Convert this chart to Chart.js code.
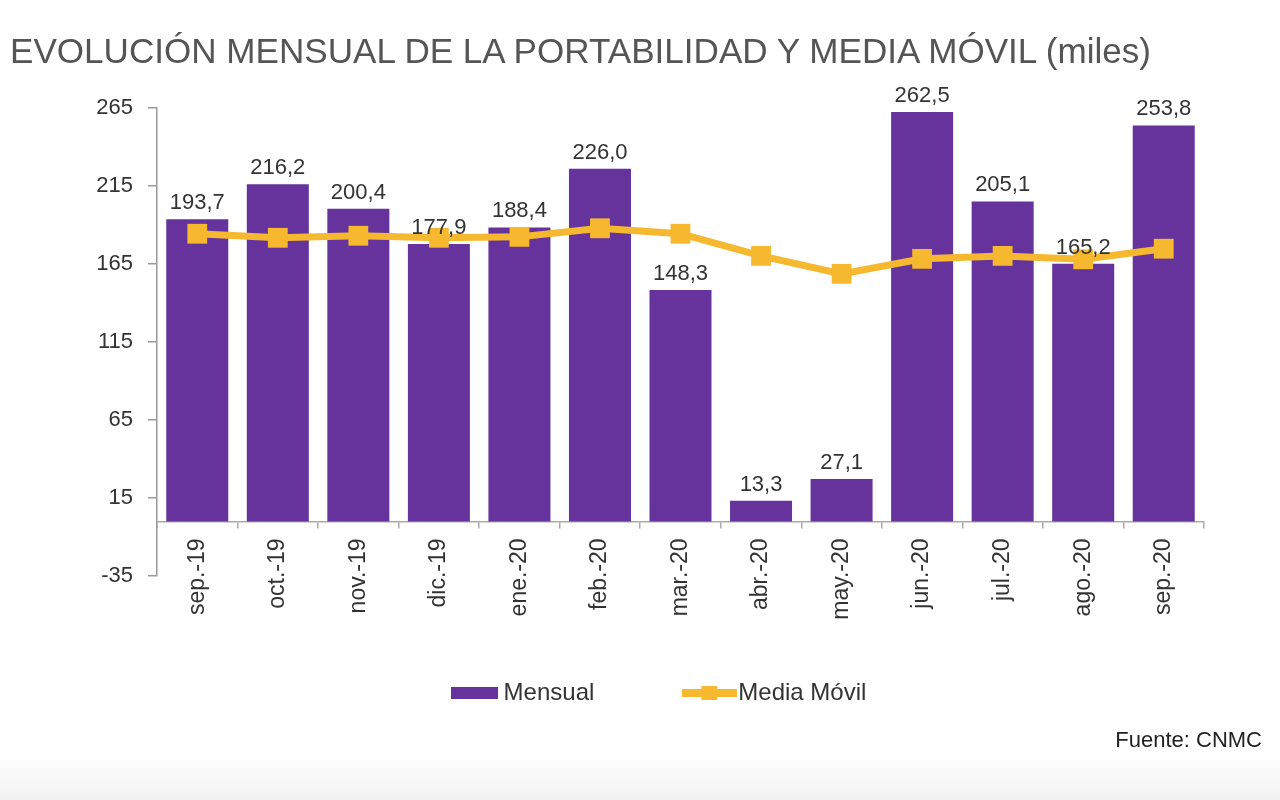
<!DOCTYPE html>
<html><head><meta charset="utf-8">
<script src="https://cdn.jsdelivr.net/npm/chart.js@4"></script>
<style>
html,body{margin:0;padding:0;background:#fff;width:1280px;height:800px;overflow:hidden;font-family:"Liberation Sans",Arial,sans-serif}
#band{position:absolute;left:0;top:755px;width:1280px;height:45px;background:linear-gradient(#ffffff,#f2f2f2)}
#title{position:absolute;left:10px;top:33px;font-size:35.1px;line-height:1;color:#555;white-space:nowrap}
#src{position:absolute;right:18px;top:729px;font-size:22px;line-height:1;color:#222;white-space:nowrap}
#wrap{position:absolute;left:0;top:0;width:1280px;height:800px}
</style></head><body>
<div id="band"></div>
<div id="wrap"><canvas id="c" width="1280" height="800"></canvas></div>
<div id="title">EVOLUCIÓN MENSUAL DE LA PORTABILIDAD Y MEDIA MÓVIL (miles)</div>
<div id="src">Fuente: CNMC</div>
<script>
const categories = ["sep.-19","oct.-19","nov.-19","dic.-19","ene.-20","feb.-20","mar.-20","abr.-20","may.-20","jun.-20","jul.-20","ago.-20","sep.-20"];
const mensual = [193.7,216.2,200.4,177.9,188.4,226.0,148.3,13.3,27.1,262.5,205.1,165.2,253.8];
const mediaMovil = [184.4,181.8,183.1,181.8,182.4,187.9,184.4,170.2,158.7,168.3,170.2,168.0,174.8];
const yTicks = [-35,15,65,115,165,215,265];
const seriesNames = ["Mensual","Media Móvil"];

const PURPLE = "#65339b";
const GOLD = "#f5b82e";
const FONT = '"Liberation Sans", Arial, sans-serif';

function makeIcon(w,h,draw){const c=document.createElement('canvas');c.width=w;c.height=h;draw(c.getContext('2d'),w,h);return c;}
const barIcon = makeIcon(47,12,(g,w,h)=>{g.fillStyle=PURPLE;g.fillRect(0,0,w,h);});
const lineIcon = makeIcon(55,18,(g,w,h)=>{g.fillStyle=GOLD;g.fillRect(0,h/2-4,w,8);g.fillRect(w/2-8,h/2-7,16,14);});
const icons=[barIcon,lineIcon];

const fmt = v => v.toFixed(1).replace('.',',');

const barLabels = {
  id:'barLabels',
  afterDatasetsDraw(chart){
    const ctx=chart.ctx;
    const meta=chart.getDatasetMeta(0);
    ctx.save();
    ctx.font='22px '+FONT;
    ctx.fillStyle='#333';
    ctx.textAlign='center';
    ctx.textBaseline='alphabetic';
    meta.data.forEach((el,i)=>{
      ctx.fillText(fmt(mensual[i]), el.x, el.y-10);
    });
    ctx.restore();
  }
};

new Chart(document.getElementById('c'),{
  data:{
    labels:categories,
    datasets:[
      {type:'bar',label:seriesNames[0],data:mensual,backgroundColor:PURPLE,borderWidth:0,
       categoryPercentage:1,barPercentage:0.77,order:1,yAxisID:'y'},
      {type:'line',label:seriesNames[1],data:mediaMovil,borderColor:GOLD,backgroundColor:GOLD,borderWidth:7,
       pointStyle:'rect',pointRadius:14,pointHoverRadius:14,pointBackgroundColor:GOLD,pointBorderWidth:0,tension:0,order:0,yAxisID:'y'}
    ]
  },
  options:{
    responsive:false,animation:false,devicePixelRatio:1,
    layout:{padding:{top:108,left:44,right:0,bottom:85}},
    plugins:{
      title:{display:false},
      tooltip:{enabled:false},
      legend:{
        position:'bottom',
        title:{display:true,text:' ',font:{size:1,lineHeight:1},padding:{top:3,bottom:3},color:'rgba(0,0,0,0)'},
        labels:{
          usePointStyle:true,pointStyleWidth:34,padding:98,
          font:{size:24,family:FONT},color:'#333',
          generateLabels:(chart)=>chart.data.datasets.map((ds,i)=>({text:ds.label,fontColor:'#333',pointStyle:icons[i],datasetIndex:i,hidden:false,lineWidth:0,rotation:0,fillStyle:'rgba(0,0,0,0)',strokeStyle:'rgba(0,0,0,0)'}))
        }
      }
    },
    scales:{
      x:{
        type:'category',offset:true,position:{y:0},
        grid:{display:true,drawOnChartArea:false,drawTicks:true,tickLength:6,offset:true,color:'#aaa',lineWidth:1.5},
        border:{display:true,color:'#aaa',width:1.5},
        ticks:{minRotation:90,maxRotation:90,autoSkip:false,padding:11,color:'#333',font:{size:23,family:FONT}}
      },
      y:{
        type:'linear',position:'left',min:-35,max:265,
        afterBuildTicks:s=>{s.ticks=yTicks.map(v=>({value:v}));},
        grid:{display:true,drawOnChartArea:false,drawTicks:true,tickLength:9,color:'#999',lineWidth:1.5},
        border:{display:true,color:'#999',width:1.5},
        ticks:{padding:15,color:'#333',font:{size:22,family:FONT}},
        afterFit:s=>{s.width=113;}
      },
      yRight:{
        type:'linear',position:'right',min:-35,max:265,display:true,
        grid:{display:false,drawTicks:false},border:{display:false},
        ticks:{display:false},
        afterFit:s=>{s.width=76;}
      }
    }
  },
  plugins:[barLabels]
});
</script>
</body></html>
